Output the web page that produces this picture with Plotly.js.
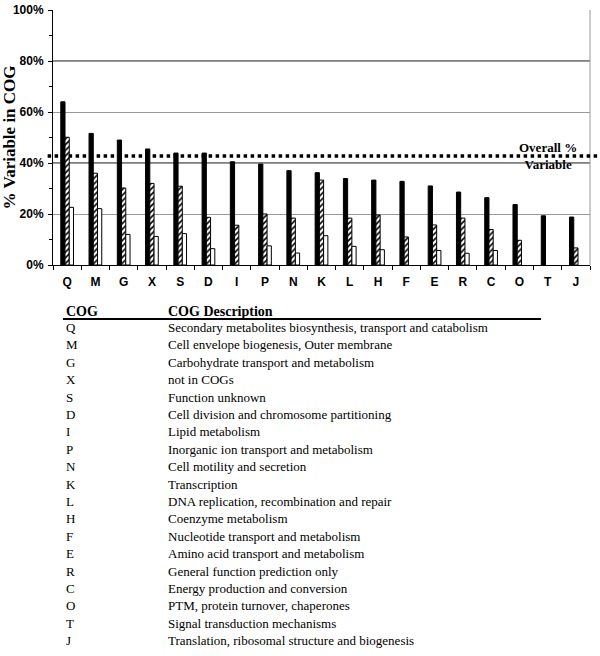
<!DOCTYPE html>
<html>
<head>
<meta charset="utf-8">
<script src="https://cdn.plot.ly/plotly-3.0.1.min.js"></script>
<style>
  body { margin: 0; background: #fff; }
  #chart { width: 600px; height: 656px; }
</style>
</head>
<body>
<div id="chart"></div>
<script>
// COG categories, sorted as in the figure
let cogs = ['Q', 'M', 'G', 'X', 'S', 'D', 'I', 'P', 'N', 'K', 'L', 'H', 'F', 'E', 'R', 'C', 'O', 'T', 'J']

// % variable per category, three series (solid, hatched, open); null = no bar
let solidVals = [64.0, 51.6, 49.0, 45.5, 43.9, 43.9, 40.5, 39.6, 37.0, 36.2, 33.9, 33.3, 32.8, 31.0, 28.6, 26.4, 23.7, 19.3, 18.8]
let hatchVals = [50.1, 36.0, 30.2, 32.0, 30.9, 18.7, 15.6, 20.0, 18.4, 33.3, 18.4, 19.6, 11.0, 15.7, 18.4, 13.9, 9.7, null, 6.7]
let openVals = [22.6, 22.1, 12.0, 11.2, 12.3, 6.4, null, 7.5, 4.7, 11.5, 7.3, 6.0, null, 5.7, 4.6, 5.7, null, null, null]

let overallPct = 42.7

let yTicks = [0, 20, 40, 60, 80, 100]
let yTickText = yTicks.map(v => v + '%')

let cogDescriptions = [
  'Secondary metabolites biosynthesis, transport and catabolism',
  'Cell envelope biogenesis, Outer membrane',
  'Carbohydrate transport and metabolism',
  'not in COGs',
  'Function unknown',
  'Cell division and chromosome partitioning',
  'Lipid metabolism',
  'Inorganic ion transport and metabolism',
  'Cell motility and secretion',
  'Transcription',
  'DNA replication, recombination and repair',
  'Coenzyme metabolism',
  'Nucleotide transport and metabolism',
  'Amino acid transport and metabolism',
  'General function prediction only',
  'Energy production and conversion',
  'PTM, protein turnover, chaperones',
  'Signal transduction mechanisms',
  'Translation, ribosomal structure and biogenesis'
]

// plot box in pixels (used to place the table below the chart)
const plotLeft = 53, plotRight = 590, plotTop = 10, plotBottom = 265
const px = (x) => (x - plotLeft) / (plotRight - plotLeft)
const py = (y) => (plotBottom - y) / (plotBottom - plotTop)

const serif = 'Liberation Serif, Times New Roman, serif'
const sans = 'Liberation Sans, Arial, sans-serif'

const barLine = { color: '#000', width: 1 }

const traces = [
  {
    x: cogs, y: solidVals, type: 'bar', name: 'solid',
    marker: { color: '#000', line: barLine }
  },
  {
    x: cogs, y: hatchVals, type: 'bar', name: 'hatched',
    marker: {
      color: '#fff', line: barLine,
      pattern: { shape: '/', fgcolor: '#000', bgcolor: '#fff', size: 4, solidity: 0.4 }
    }
  },
  {
    x: cogs, y: openVals, type: 'bar', name: 'open',
    marker: { color: '#fff', line: barLine }
  }
]

// table rows as annotations
const rowTop = 327.5, rowStep = 17.4
let annotations = [
  {
    text: '<b>Overall %<br>Variable</b>', xref: 'paper', yref: 'y',
    x: px(548), y: overallPct, xanchor: 'center', yanchor: 'middle',
    showarrow: false, font: { family: serif, size: 13, color: '#000' }
  },
  {
    text: '<b>COG</b>', xref: 'paper', yref: 'paper', x: px(64), y: py(311),
    xanchor: 'left', yanchor: 'middle', showarrow: false,
    font: { family: serif, size: 14, color: '#000' }
  },
  {
    text: '<b>COG Description</b>', xref: 'paper', yref: 'paper', x: px(166), y: py(311),
    xanchor: 'left', yanchor: 'middle', showarrow: false,
    font: { family: serif, size: 14, color: '#000' }
  }
]
cogs.forEach((c, i) => {
  const yy = py(rowTop + i * rowStep)
  annotations.push({
    text: c, xref: 'paper', yref: 'paper', x: px(64), y: yy,
    xanchor: 'left', yanchor: 'middle', showarrow: false,
    font: { family: serif, size: 13, color: '#000' }
  })
  annotations.push({
    text: cogDescriptions[i], xref: 'paper', yref: 'paper', x: px(166), y: yy,
    xanchor: 'left', yanchor: 'middle', showarrow: false,
    font: { family: serif, size: 13, color: '#000' }
  })
})

const shapes = [
  // darker gridlines at 40% and 80%
  { type: 'line', xref: 'paper', yref: 'y', x0: 0, x1: 1, y0: 40, y1: 40, layer: 'below', line: { color: '#000', width: 1 } },
  { type: 'line', xref: 'paper', yref: 'y', x0: 0, x1: 1, y0: 80, y1: 80, layer: 'below', line: { color: '#000', width: 1 } },
  // right frame
  { type: 'line', xref: 'paper', yref: 'y', x0: 1, x1: 1, y0: 0, y1: 100, line: { color: '#999', width: 1 } },
  // overall % line
  { type: 'line', xref: 'paper', yref: 'y', x0: -0.01, x1: 1.02, y0: overallPct, y1: overallPct, line: { color: '#000', width: 3.5, dash: 'dot' } },
  // table header rule
  { type: 'line', xref: 'paper', yref: 'paper', x0: px(63), x1: px(541), y0: py(319), y1: py(319), line: { color: '#000', width: 2 } }
]

const layout = {
  width: 600, height: 656,
  margin: { l: plotLeft, r: 600 - plotRight, t: plotTop, b: 656 - plotBottom },
  paper_bgcolor: '#fff', plot_bgcolor: '#fff',
  barmode: 'group', bargap: 0.55, bargroupgap: 0,
  showlegend: false,
  xaxis: {
    type: 'category', showline: true, linecolor: '#000', linewidth: 1,
    ticks: 'outside', tickson: 'boundaries', ticklen: 4, tickcolor: '#000',
    ticklabelstandoff: 6,
    showgrid: false, fixedrange: true,
    tickfont: { family: sans, size: 12, color: '#000', weight: 'bold' }
  },
  yaxis: {
    range: [0, 100], tickmode: 'array', tickvals: yTicks, ticktext: yTickText,
    showline: true, linecolor: '#000', linewidth: 1,
    ticks: 'outside', ticklen: 4, tickcolor: '#000', ticklabelstandoff: 2,
    minor: { dtick: 10, ticks: 'outside', ticklen: 3, tickcolor: '#000', showgrid: false },
    gridcolor: '#999', gridwidth: 1, zeroline: false,
    tickfont: { family: sans, size: 12, color: '#000', weight: 'bold' },
    title: { text: '% Variable in COG', standoff: 6, font: { family: serif, size: 17, color: '#000', weight: 'bold' } }
  },
  shapes: shapes,
  annotations: annotations
}

Plotly.newPlot('chart', traces, layout, { displayModeBar: false, staticPlot: true })
</script>
</body>
</html>
